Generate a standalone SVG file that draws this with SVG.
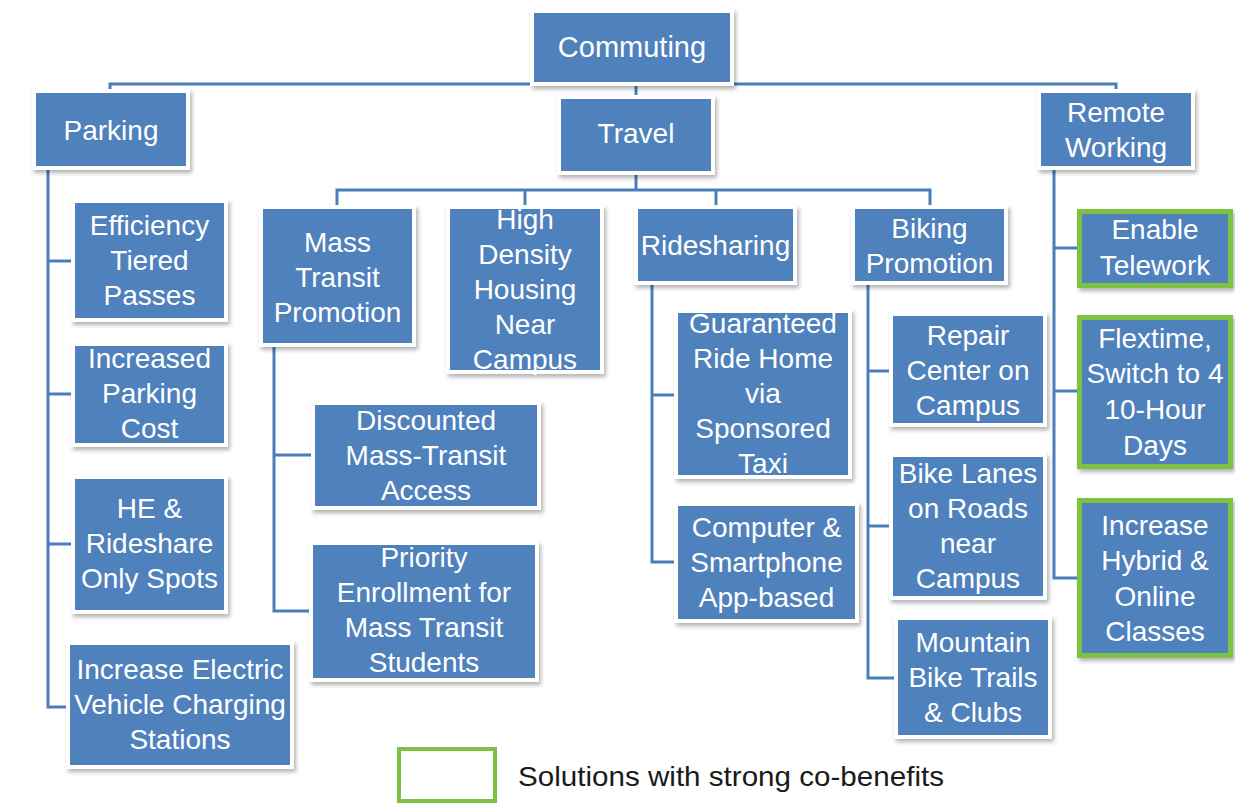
<svg xmlns="http://www.w3.org/2000/svg" width="1235" height="809" viewBox="0 0 1235 809">
<defs>
<filter id="sh" x="-10%" y="-10%" width="125%" height="130%">
<feDropShadow dx="2" dy="3" stdDeviation="2" flood-color="#000" flood-opacity="0.3"/>
</filter>
<style>
.frame{fill:#fff;filter:url(#sh)}
.box{fill:#4F81BD}
.gbox{fill:#4F81BD;stroke:#7DC243;stroke-width:5}
.t{font-family:"Liberation Sans",Arial,sans-serif;font-size:28px;fill:#fff;text-anchor:middle}
.con{fill:none;stroke:#4A7EBB;stroke-width:3}
.leg{font-family:"Liberation Sans",Arial,sans-serif;font-size:28px;fill:#1a1a1a}
</style>
</defs>
<rect width="1235" height="809" fill="#fff"/>
<g id="connectors">
<path class="con" d="M110,93 V84 H1116 V93"/>
<path class="con" d="M636,82 V99"/>
<path class="con" d="M636,171 V190"/>
<path class="con" d="M337,209 V190 H930 V209"/>
<path class="con" d="M525,190 V209"/>
<path class="con" d="M716,190 V209"/>
<path class="con" d="M48,166 V707 H70"/>
<path class="con" d="M48,261 H75"/>
<path class="con" d="M48,394 H75"/>
<path class="con" d="M48,544 H75"/>
<path class="con" d="M274,343 V611 H313"/>
<path class="con" d="M274,455 H315"/>
<path class="con" d="M652,281 V562 H678"/>
<path class="con" d="M652,395 H678"/>
<path class="con" d="M868,281 V678 H898"/>
<path class="con" d="M868,371 H893"/>
<path class="con" d="M868,526 H893"/>
<path class="con" d="M1054,166 V578 H1077"/>
<path class="con" d="M1054,248 H1077"/>
<path class="con" d="M1054,391 H1077"/>
</g>
<g id="commuting">
<rect class="frame" x="530" y="9" width="204" height="77"/>
<rect class="box" x="534" y="13" width="196" height="69"/>
<text class="t" x="632" y="57" style="font-size:29px">Commuting</text>
</g>
<g id="parking">
<rect class="frame" x="32" y="89" width="158" height="81"/>
<rect class="box" x="36" y="93" width="150" height="73"/>
<text class="t" x="111" y="140">Parking</text>
</g>
<g id="travel">
<rect class="frame" x="557" y="95" width="158" height="80"/>
<rect class="box" x="561" y="99" width="150" height="72"/>
<text class="t" x="636" y="143">Travel</text>
</g>
<g id="remote-working">
<rect class="frame" x="1037" y="89" width="158" height="81"/>
<rect class="box" x="1041" y="93" width="150" height="73"/>
<text class="t" x="1116" y="122">Remote</text>
<text class="t" x="1116" y="157">Working</text>
</g>
<g id="efficiency">
<rect class="frame" x="71" y="199" width="157" height="123"/>
<rect class="box" x="75" y="203" width="149" height="115"/>
<text class="t" x="149.5" y="235">Efficiency</text>
<text class="t" x="149.5" y="270">Tiered</text>
<text class="t" x="149.5" y="305">Passes</text>
</g>
<g id="increased-parking-cost">
<rect class="frame" x="71" y="342" width="157" height="105"/>
<rect class="box" x="75" y="346" width="149" height="97"/>
<text class="t" x="149.5" y="368">Increased</text>
<text class="t" x="149.5" y="403">Parking</text>
<text class="t" x="149.5" y="438">Cost</text>
</g>
<g id="he-rideshare">
<rect class="frame" x="71" y="475" width="157" height="139"/>
<rect class="box" x="75" y="479" width="149" height="131"/>
<text class="t" x="149.5" y="518">HE &amp;</text>
<text class="t" x="149.5" y="553">Rideshare</text>
<text class="t" x="149.5" y="588">Only Spots</text>
</g>
<g id="ev-charging">
<rect class="frame" x="66" y="641" width="228" height="128"/>
<rect class="box" x="70" y="645" width="220" height="120"/>
<text class="t" x="180" y="679">Increase Electric</text>
<text class="t" x="180" y="714">Vehicle Charging</text>
<text class="t" x="180" y="749">Stations</text>
</g>
<g id="mass-transit">
<rect class="frame" x="259" y="205" width="157" height="142"/>
<rect class="box" x="263" y="209" width="149" height="134"/>
<text class="t" x="337.5" y="252">Mass</text>
<text class="t" x="337.5" y="287">Transit</text>
<text class="t" x="337.5" y="322">Promotion</text>
</g>
<g id="high-density">
<rect class="frame" x="446" y="205" width="158" height="169"/>
<rect class="box" x="450" y="209" width="150" height="161"/>
<text class="t" x="525" y="229">High</text>
<text class="t" x="525" y="264">Density</text>
<text class="t" x="525" y="299">Housing</text>
<text class="t" x="525" y="334">Near</text>
<text class="t" x="525" y="369">Campus</text>
</g>
<g id="ridesharing">
<rect class="frame" x="634" y="205" width="163" height="80"/>
<rect class="box" x="638" y="209" width="155" height="72"/>
<text class="t" x="715.5" y="255">Ridesharing</text>
</g>
<g id="biking">
<rect class="frame" x="851" y="205" width="157" height="80"/>
<rect class="box" x="855" y="209" width="149" height="72"/>
<text class="t" x="929.5" y="238">Biking</text>
<text class="t" x="929.5" y="273">Promotion</text>
</g>
<g id="discounted">
<rect class="frame" x="311" y="401" width="230" height="109"/>
<rect class="box" x="315" y="405" width="222" height="101"/>
<text class="t" x="426" y="430">Discounted</text>
<text class="t" x="426" y="465">Mass-Transit</text>
<text class="t" x="426" y="500">Access</text>
</g>
<g id="priority">
<rect class="frame" x="309" y="541" width="230" height="141"/>
<rect class="box" x="313" y="545" width="222" height="133"/>
<text class="t" x="424" y="567">Priority</text>
<text class="t" x="424" y="602">Enrollment for</text>
<text class="t" x="424" y="637">Mass Transit</text>
<text class="t" x="424" y="672">Students</text>
</g>
<g id="guaranteed">
<rect class="frame" x="674" y="309" width="178" height="170"/>
<rect class="box" x="678" y="313" width="170" height="162"/>
<text class="t" x="763" y="333">Guaranteed</text>
<text class="t" x="763" y="368">Ride Home</text>
<text class="t" x="763" y="403">via</text>
<text class="t" x="763" y="438">Sponsored</text>
<text class="t" x="763" y="473">Taxi</text>
</g>
<g id="computer">
<rect class="frame" x="674" y="502" width="185" height="121"/>
<rect class="box" x="678" y="506" width="177" height="113"/>
<text class="t" x="766.5" y="537">Computer &amp;</text>
<text class="t" x="766.5" y="572">Smartphone</text>
<text class="t" x="766.5" y="607">App-based</text>
</g>
<g id="repair">
<rect class="frame" x="889" y="312" width="158" height="115"/>
<rect class="box" x="893" y="316" width="150" height="107"/>
<text class="t" x="968" y="345">Repair</text>
<text class="t" x="968" y="380">Center on</text>
<text class="t" x="968" y="415">Campus</text>
</g>
<g id="bike-lanes">
<rect class="frame" x="889" y="453" width="158" height="147"/>
<rect class="box" x="893" y="457" width="150" height="139"/>
<text class="t" x="968" y="483">Bike Lanes</text>
<text class="t" x="968" y="518">on Roads</text>
<text class="t" x="968" y="553">near</text>
<text class="t" x="968" y="588">Campus</text>
</g>
<g id="mountain">
<rect class="frame" x="894" y="616" width="158" height="123"/>
<rect class="box" x="898" y="620" width="150" height="115"/>
<text class="t" x="973" y="652">Mountain</text>
<text class="t" x="973" y="687">Bike Trails</text>
<text class="t" x="973" y="722">&amp; Clubs</text>
</g>
<g id="telework">
<rect class="gbox" x="1079.5" y="211.5" width="151" height="74" filter="url(#sh)"/>
<text class="t" x="1155" y="239">Enable</text>
<text class="t" x="1155" y="275">Telework</text>
</g>
<g id="flextime">
<rect class="gbox" x="1079.5" y="317.5" width="151" height="149" filter="url(#sh)"/>
<text class="t" x="1155" y="348">Flextime,</text>
<text class="t" x="1155" y="383">Switch to 4</text>
<text class="t" x="1155" y="419">10-Hour</text>
<text class="t" x="1155" y="455">Days</text>
</g>
<g id="hybrid">
<rect class="gbox" x="1079.5" y="500.5" width="151" height="155" filter="url(#sh)"/>
<text class="t" x="1155" y="535">Increase</text>
<text class="t" x="1155" y="570">Hybrid &amp;</text>
<text class="t" x="1155" y="606">Online</text>
<text class="t" x="1155" y="641">Classes</text>
</g>
<g id="legend">
<rect x="399" y="749" width="96" height="52" fill="#fff" stroke="#7DC243" stroke-width="4"/>
<text class="leg" x="518" y="786" textLength="426" lengthAdjust="spacingAndGlyphs">Solutions with strong co-benefits</text>
</g>
</svg>
